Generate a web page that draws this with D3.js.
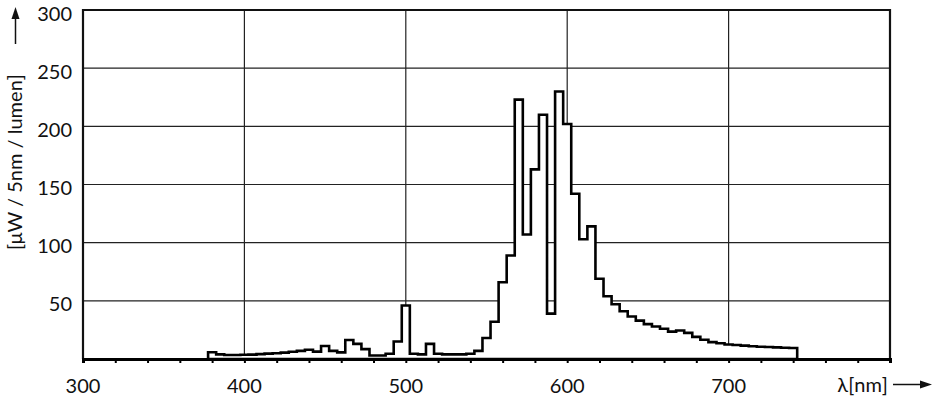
<!DOCTYPE html>
<html>
<head>
<meta charset="utf-8">
<script src="https://cdn.jsdelivr.net/npm/d3@7"></script>
<style>
  html, body { margin: 0; padding: 0; background: #fff; }
  svg { display: block; }
  text { font-family: Lato, "Liberation Sans", sans-serif; fill: #111; }
</style>
</head>
<body>
<svg id="chart" width="935" height="400"></svg>
<script>
// ---- data ----
const wavelengths = [380,385,390,395,400,405,410,415,420,425,430,435,
  440,445,450,455,460,465,470,475,480,485,490,495,
  500,505,510,515,520,525,530,535,540,545,550,555,
  560,565,570,575,580,585,590,595,600,605,610,615,
  620,625,630,635,640,645,650,655,660,665,670,675,
  680,685,690,695,700,705,710,715,720,725,730,735,740];
const power = [5.8,4,3.5,3.5,3.6,3.8,4.2,4.6,5,5.5,6.2,7,
  8,6.3,11.2,7,5.7,16.3,13,8.5,3,3,4.5,15,
  46,4.5,4,13,4.5,4,4,4,4.5,7,18,32,
  66,89,223,107,163,210,39,230,202,142,103,114,
  69,54,47,41,36.5,33,30,28,26,23.5,24.5,22.5,
  19,16.5,14.5,13.5,12.5,12,11.5,11,10.5,10.3,10,9.7,9.5];
const binWidth = 5;
const xDomain = [300, 800];
const yDomain = [0, 300];
const xMinorTicks = [300,320,340,360,380,400,420,440,460,480,500,520,540,560,580,600,620,640,660,680,700,720,740,760,780,800];
const xGridTicks = [400,500,600,700];
const xLabelTicks = [300,400,500,600,700];
const yGridTicks = [50,100,150,200,250];
const yLabelTicks = [50,100,150,200,250,300];
const yTitle = "[μW / 5nm / lumen]";
const xTitle = "λ[nm]";

// ---- layout ----
const L = 83, R = 890, T = 10, B = 359;
const svg = d3.select("#chart");
const x = d3.scaleLinear().domain(xDomain).range([L, R]);
const y = d3.scaleLinear().domain(yDomain).range([B, T]);

// gridlines
svg.append("g").selectAll("line").data(yGridTicks).join("line")
  .attr("x1", L).attr("x2", R)
  .attr("y1", d => y(d)).attr("y2", d => y(d))
  .attr("stroke", "#222").attr("stroke-width", 1.2);
svg.append("g").selectAll("line").data(xGridTicks).join("line")
  .attr("y1", T).attr("y2", B)
  .attr("x1", d => x(d)).attr("x2", d => x(d))
  .attr("stroke", "#222").attr("stroke-width", 1.2);

// step spectrum
const pts = wavelengths.map((w, i) => [w - binWidth / 2, power[i]]);
pts.push([wavelengths[wavelengths.length - 1] + binWidth / 2, power[power.length - 1]]);
const area = d3.area()
  .x(d => x(d[0])).y0(y(0)).y1(d => y(d[1]))
  .curve(d3.curveStepAfter);
svg.append("path").datum(pts)
  .attr("d", area)
  .attr("fill", "#fff")
  .attr("stroke", "#000")
  .attr("stroke-width", 2.6)
  .attr("stroke-linejoin", "miter");

// frame
svg.append("path")
  .attr("d", `M${L},${B}V${T}H${R}V${B}`)
  .attr("fill", "none").attr("stroke", "#111").attr("stroke-width", 2.2);

// bottom axis with minor ticks
const xAxis = d3.axisBottom(x).tickValues(xMinorTicks).tickSize(4).tickFormat("");
const gx = svg.append("g").attr("transform", `translate(0,${B})`).call(xAxis);
gx.select(".domain").attr("stroke", "#000").attr("stroke-width", 3);
gx.selectAll(".tick line").attr("stroke", "#000").attr("stroke-width", 2);

// x labels
svg.append("g").selectAll("text").data(xLabelTicks).join("text")
  .attr("x", d => x(d)).attr("y", 393)
  .attr("text-anchor", "middle")
  .attr("font-size", 20)
  .text(d => d);

// y labels
svg.append("g").selectAll("text").data(yLabelTicks).join("text")
  .attr("x", 72).attr("y", d => y(d) + 10.5)
  .attr("text-anchor", "end")
  .attr("font-size", 20)
  .text(d => d);

// x title + arrow
svg.append("text").attr("x", 888).attr("y", 392)
  .attr("text-anchor", "end").attr("font-size", 20).text(xTitle);
svg.append("line").attr("x1", 893).attr("x2", 922).attr("y1", 384.5).attr("y2", 384.5)
  .attr("stroke", "#111").attr("stroke-width", 1.5);
svg.append("path").attr("d", "M932,384.5L920,380.5L920,388.5Z").attr("fill", "#111");

// y title + arrow
svg.append("text")
  .attr("transform", "translate(22,250) rotate(-90)")
  .attr("text-anchor", "start").attr("font-size", 20).text(yTitle);
svg.append("line").attr("x1", 15.5).attr("x2", 15.5).attr("y1", 44).attr("y2", 18)
  .attr("stroke", "#111").attr("stroke-width", 1.5);
svg.append("path").attr("d", "M15.5,7L11.5,19L19.5,19Z").attr("fill", "#111");
</script>
</body>
</html>
